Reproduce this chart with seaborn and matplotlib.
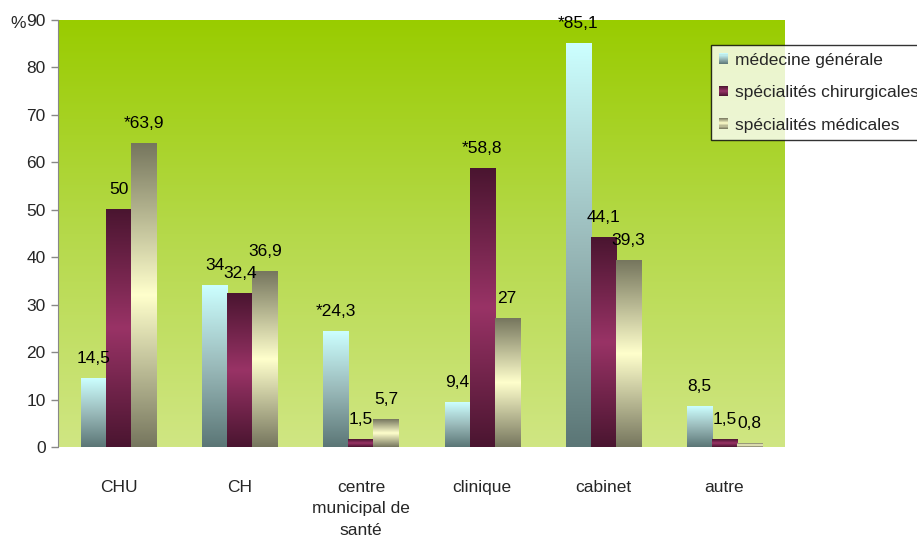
import numpy as np
import pandas as pd
import matplotlib
matplotlib.use("Agg")
import matplotlib.pyplot as plt
from matplotlib.colors import LinearSegmentedColormap
from matplotlib.patches import Patch, Rectangle
from matplotlib.legend_handler import HandlerBase
import seaborn as sns

categories = ["CHU", "CH", "centre\nmunicipal de\nsanté", "clinique", "cabinet", "autre"]
series = ["médecine générale", "spécialités chirurgicales", "spécialités médicales"]
medecine_generale = [14.5, 34, 24.3, 9.4, 85.1, 8.5]
specialites_chirurgicales = [50, 32.4, 1.5, 58.8, 44.1, 1.5]
specialites_medicales = [63.9, 36.9, 5.7, 27, 39.3, 0.8]
# significant differences are flagged with an asterisk
starred = [
    [False, False, True, False, True, False],
    [False, False, False, True, False, False],
    [True, False, False, False, False, False],
]
yticks = [0, 10, 20, 30, 40, 50, 60, 70, 80, 90]

values = [medecine_generale, specialites_chirurgicales, specialites_medicales]
df = pd.DataFrame({
    "cat": np.repeat([categories], 3, axis=0).ravel(),
    "serie": np.repeat(series, len(categories)),
    "val": np.concatenate(values),
})

# vertical colour ramps (bottom -> top) for each series
ramps = [
    ["#5b7676", "#9ababa", "#ccffff"],
    ["#4a1530", "#993366", "#4a1530"],
    ["#76765e", "#ffffcc", "#76765e"],
]
cmaps = [LinearSegmentedColormap.from_list(f"r{i}", r) for i, r in enumerate(ramps)]


class GradientHandle(HandlerBase):
    """Legend key drawn as a small square with a vertical colour ramp."""

    def __init__(self, cmap, strips=10):
        super().__init__()
        self.cmap = cmap
        self.strips = strips

    def create_artists(self, legend, orig_handle, xdescent, ydescent,
                       width, height, fontsize, trans):
        arts = []
        sh = height / self.strips
        for k in range(self.strips):
            r = Rectangle((-xdescent, -ydescent + k * sh), width, sh * 1.05,
                          facecolor=self.cmap((k + 0.5) / self.strips),
                          edgecolor="none", transform=trans)
            arts.append(r)
        return arts


sns.set_style("white")
plt.rcParams["font.family"] = ["Liberation Sans", "DejaVu Sans"]

fig = plt.figure(figsize=(9.17, 5.39), dpi=100)
ax = fig.add_axes([58 / 917, 1 - 447 / 539, 727 / 917, 427 / 539])

sns.barplot(data=df, x="cat", y="val", hue="serie", hue_order=series,
            order=categories, width=0.62, gap=0, dodge=True, legend=False,
            ax=ax, saturation=1)

# green background gradient
bg = LinearSegmentedColormap.from_list("bg", ["#d0e683", "#b5d94a", "#99cc00"])
ax.imshow(np.linspace(0, 1, 256).reshape(-1, 1), cmap=bg, origin="lower",
          extent=[0, 1, 0, 1], transform=ax.transAxes, aspect="auto", zorder=0)

for s, cont in enumerate(ax.containers):
    for i, bar in enumerate(cont):
        x, w, h = bar.get_x(), bar.get_width(), bar.get_height()
        bar.set_facecolor("none")
        bar.set_edgecolor("none")
        ax.imshow(np.linspace(0, 1, 256).reshape(-1, 1), cmap=cmaps[s], origin="lower",
                  extent=[x, x + w, 0, h], aspect="auto", zorder=2)
        txt = ("*" if starred[s][i] else "") + f"{values[s][i]:g}".replace(".", ",")
        ax.annotate(txt, (x + w / 2, h), xytext=(0, 9), textcoords="offset points",
                    ha="center", va="bottom", fontsize=12.5, color="black", zorder=3)

ax.set_xlim(-0.5, len(categories) - 0.5)
ax.set_ylim(0, 90)
ax.set_yticks(yticks)
ax.set_xlabel("")
ax.set_ylabel("")
ax.tick_params(axis="y", which="both", left=True, length=5, width=1, color="#888888",
               labelsize=12.5, pad=4)
ax.tick_params(axis="x", bottom=False, labelsize=12.5, pad=20)
for lab in ax.get_xticklabels():
    lab.set_linespacing(1.55)
    lab.set_va("top")
for side in ["top", "right", "bottom"]:
    ax.spines[side].set_visible(False)
ax.spines["left"].set_color("#888888")
ax.spines["left"].set_zorder(4)

fig.text(10 / 917, 1 - 24 / 539, "%", fontsize=12.5, ha="left", va="center")

handles = [Patch(facecolor="none") for _ in series]
leg = fig.legend(handles, series, loc="upper left",
                 bbox_to_anchor=(711 / 917, 1 - 45 / 539), frameon=True,
                 fontsize=12.5, handlelength=0.55, handleheight=0.55,
                 handletextpad=0.4, labelspacing=1.0, borderpad=0.45,
                 fancybox=False, borderaxespad=0,
                 handler_map={h: GradientHandle(cmaps[i]) for i, h in enumerate(handles)})
leg.get_frame().set_edgecolor("black")
leg.get_frame().set_linewidth(1)

fig.savefig("out.png", dpi=100)
